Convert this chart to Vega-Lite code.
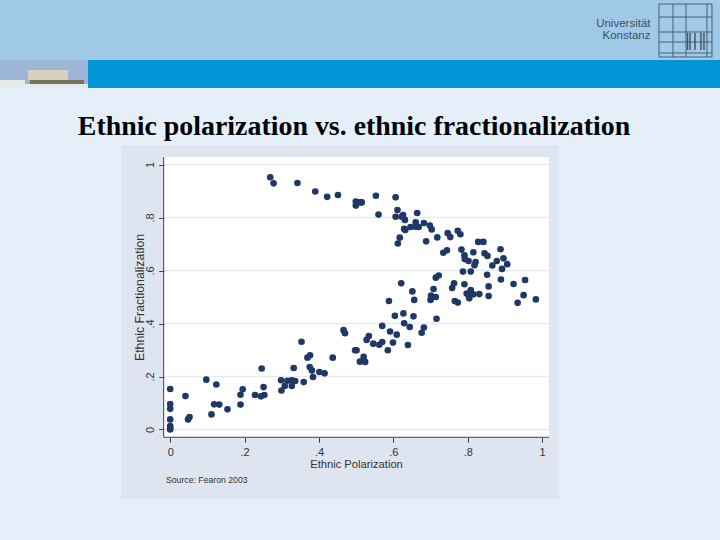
{
  "$schema": "https://vega.github.io/schema/vega-lite/v6.json",
  "description": "Ethnic polarization vs. ethnic fractionalization",
  "width": 720,
  "height": 540,
  "padding": 0,
  "autosize": {"type": "fit", "contains": "padding"},
  "background": "#e4effa",
  "view": {"stroke": null},
  "data": {"values": [{"slide": 1}]},
  "layer": [
    {"mark": {"type": "rect", "color": "#a0c9e8"},
     "encoding": {"x": {"datum": -0.4575, "type": "quantitative"}, "x2": {"datum": 1.478}, "y": {"datum": 1.6208, "type": "quantitative"}, "y2": {"datum": 1.3943}}},
    {"mark": {"type": "rect", "color": "#0095d4"},
     "encoding": {"x": {"datum": -0.221, "type": "quantitative"}, "x2": {"datum": 1.478}, "y": {"datum": 1.3943, "type": "quantitative"}, "y2": {"datum": 1.2887}}},
    {"mark": {"type": "rect", "color": "#9db6d8"},
     "encoding": {"x": {"datum": -0.4575, "type": "quantitative"}, "x2": {"datum": -0.221}, "y": {"datum": 1.3943, "type": "quantitative"}, "y2": {"datum": 1.2887}}},
    {"mark": {"type": "rect", "color": "#d6d2bd"},
     "encoding": {"x": {"datum": -0.3823, "type": "quantitative"}, "x2": {"datum": -0.2747}, "y": {"datum": 1.3566, "type": "quantitative"}, "y2": {"datum": 1.3189}}},
    {"mark": {"type": "rect", "color": "#77725f"},
     "encoding": {"x": {"datum": -0.3769, "type": "quantitative"}, "x2": {"datum": -0.2317}, "y": {"datum": 1.3189, "type": "quantitative"}, "y2": {"datum": 1.3038}}},
    {"mark": {"type": "rect", "color": "#e6ebe8"},
     "encoding": {"x": {"datum": -0.4575, "type": "quantitative"}, "x2": {"datum": -0.221}, "y": {"datum": 1.3038, "type": "quantitative"}, "y2": {"datum": 1.2887}}},
    {"mark": {"type": "rect", "color": "#e6ebe8"},
     "encoding": {"x": {"datum": -0.4575, "type": "quantitative"}, "x2": {"datum": -0.3903}, "y": {"datum": 1.3189, "type": "quantitative"}, "y2": {"datum": 1.3038}}},
    {"mark": {"type": "rect", "fillOpacity": 0, "stroke": "#4a5f72", "strokeWidth": 1},
     "encoding": {"x": {"datum": 1.314, "type": "quantitative"}, "x2": {"datum": 1.4564}, "y": {"datum": 1.6057, "type": "quantitative"}, "y2": {"datum": 1.4057}}},
    {"data": {"values": [{"v": 1.5566}, {"v": 1.5}, {"v": 1.4623}, {"v": 1.4208}]},
     "mark": {"type": "rule", "color": "#4a5f72", "strokeWidth": 1},
     "encoding": {"y": {"field": "v", "type": "quantitative"}, "x": {"datum": 1.314, "type": "quantitative"}, "x2": {"datum": 1.4564}}},
    {"data": {"values": [{"v": 1.3516}, {"v": 1.3866}, {"v": 1.443}]},
     "mark": {"type": "rule", "color": "#4a5f72", "strokeWidth": 1},
     "encoding": {"x": {"field": "v", "type": "quantitative"}, "y": {"datum": 1.6057, "type": "quantitative"}, "y2": {"datum": 1.4057}}},
    {"data": {"values": [{"v": 1.3906}, {"v": 1.3973}, {"v": 1.4108}, {"v": 1.4269}, {"v": 1.4349}]},
     "mark": {"type": "rule", "color": "#44586c", "strokeWidth": 1.5},
     "encoding": {"x": {"field": "v", "type": "quantitative"}, "y": {"datum": 1.4962, "type": "quantitative"}, "y2": {"datum": 1.4321}}},
    {"mark": {"type": "text", "text": "Universität", "align": "right", "baseline": "middle", "font": "Liberation Sans", "fontSize": 11.5, "color": "#3f4f60"},
     "encoding": {"x": {"datum": 1.2911, "type": "quantitative"}, "y": {"datum": 1.5302, "type": "quantitative"}}},
    {"mark": {"type": "text", "text": "Konstanz", "align": "right", "baseline": "middle", "font": "Liberation Sans", "fontSize": 11.5, "color": "#3f4f60"},
     "encoding": {"x": {"datum": 1.2911, "type": "quantitative"}, "y": {"datum": 1.4849, "type": "quantitative"}}},
    {"mark": {"type": "text", "text": "Ethnic polarization vs. ethnic fractionalization", "align": "center", "baseline": "alphabetic", "font": "Liberation Serif", "fontWeight": "bold", "fontSize": 27.9, "color": "#000000"},
     "encoding": {"x": {"datum": 0.4941, "type": "quantitative"}, "y": {"datum": 1.1113, "type": "quantitative"}}},
    {"mark": {"type": "rect", "color": "#dfe5f0"},
     "encoding": {"x": {"datum": -0.1323, "type": "quantitative"}, "x2": {"datum": 1.0451}, "y": {"datum": 1.0736, "type": "quantitative"}, "y2": {"datum": -0.2623}}},
    {"mark": {"type": "rect", "color": "#ffffff"},
     "encoding": {"x": {"datum": -0.0175, "type": "quantitative"}, "x2": {"datum": 1.0183}, "y": {"datum": 1.0283, "type": "quantitative"}, "y2": {"datum": -0.0294}}},
    {"data": {"values": [{"v": 0}, {"v": 0.2}, {"v": 0.4}, {"v": 0.6}, {"v": 0.8}, {"v": 1}]},
     "mark": {"type": "rule", "color": "#e6eaee", "strokeWidth": 1.5},
     "encoding": {"y": {"field": "v", "type": "quantitative"}, "x": {"datum": -0.0175, "type": "quantitative"}, "x2": {"datum": 1.0183}}},
    {"mark": {"type": "rule", "color": "#3a4250", "strokeWidth": 1},
     "encoding": {"x": {"datum": -0.0175, "type": "quantitative"}, "y": {"datum": 1.0283, "type": "quantitative"}, "y2": {"datum": -0.0294}}},
    {"mark": {"type": "rule", "color": "#3a4250", "strokeWidth": 1},
     "encoding": {"y": {"datum": -0.0294, "type": "quantitative"}, "x": {"datum": -0.0175, "type": "quantitative"}, "x2": {"datum": 1.0183}}},
    {"mark": {"type": "text", "text": "Source: Fearon 2003", "align": "left", "baseline": "middle", "font": "Liberation Sans", "fontSize": 8.7, "color": "#333333"},
     "encoding": {"x": {"datum": -0.0113, "type": "quantitative"}, "y": {"datum": -0.1906, "type": "quantitative"}}},
    {"data": {"values": [
      {"polarization": 0, "fractionalization": 0.153}, {"polarization": 0, "fractionalization": 0.096}, {"polarization": 0, "fractionalization": 0.078},
      {"polarization": 0, "fractionalization": 0.038}, {"polarization": 0, "fractionalization": 0.013}, {"polarization": 0, "fractionalization": 0.006},
      {"polarization": 0, "fractionalization": 0}, {"polarization": 0.041, "fractionalization": 0.126}, {"polarization": 0.048, "fractionalization": 0.038},
      {"polarization": 0.052, "fractionalization": 0.047}, {"polarization": 0.097, "fractionalization": 0.188}, {"polarization": 0.124, "fractionalization": 0.17},
      {"polarization": 0.111, "fractionalization": 0.057}, {"polarization": 0.118, "fractionalization": 0.095}, {"polarization": 0.132, "fractionalization": 0.094},
      {"polarization": 0.154, "fractionalization": 0.076}, {"polarization": 0.189, "fractionalization": 0.094}, {"polarization": 0.189, "fractionalization": 0.131},
      {"polarization": 0.195, "fractionalization": 0.152}, {"polarization": 0.228, "fractionalization": 0.13}, {"polarization": 0.246, "fractionalization": 0.23},
      {"polarization": 0.244, "fractionalization": 0.125}, {"polarization": 0.253, "fractionalization": 0.13}, {"polarization": 0.251, "fractionalization": 0.16},
      {"polarization": 0.298, "fractionalization": 0.186}, {"polarization": 0.299, "fractionalization": 0.147}, {"polarization": 0.308, "fractionalization": 0.164},
      {"polarization": 0.315, "fractionalization": 0.184}, {"polarization": 0.327, "fractionalization": 0.164}, {"polarization": 0.327, "fractionalization": 0.186},
      {"polarization": 0.336, "fractionalization": 0.183}, {"polarization": 0.332, "fractionalization": 0.232}, {"polarization": 0.359, "fractionalization": 0.179},
      {"polarization": 0.384, "fractionalization": 0.198}, {"polarization": 0.381, "fractionalization": 0.223}, {"polarization": 0.375, "fractionalization": 0.236},
      {"polarization": 0.369, "fractionalization": 0.271}, {"polarization": 0.376, "fractionalization": 0.28}, {"polarization": 0.353, "fractionalization": 0.331},
      {"polarization": 0.401, "fractionalization": 0.217}, {"polarization": 0.415, "fractionalization": 0.212}, {"polarization": 0.437, "fractionalization": 0.271},
      {"polarization": 0.466, "fractionalization": 0.375}, {"polarization": 0.47, "fractionalization": 0.363}, {"polarization": 0.497, "fractionalization": 0.299},
      {"polarization": 0.501, "fractionalization": 0.299}, {"polarization": 0.52, "fractionalization": 0.274}, {"polarization": 0.51, "fractionalization": 0.256},
      {"polarization": 0.524, "fractionalization": 0.255}, {"polarization": 0.528, "fractionalization": 0.338}, {"polarization": 0.534, "fractionalization": 0.353},
      {"polarization": 0.546, "fractionalization": 0.324}, {"polarization": 0.562, "fractionalization": 0.32}, {"polarization": 0.57, "fractionalization": 0.33},
      {"polarization": 0.57, "fractionalization": 0.391}, {"polarization": 0.585, "fractionalization": 0.299}, {"polarization": 0.591, "fractionalization": 0.37},
      {"polarization": 0.599, "fractionalization": 0.328}, {"polarization": 0.609, "fractionalization": 0.358}, {"polarization": 0.629, "fractionalization": 0.401},
      {"polarization": 0.644, "fractionalization": 0.387}, {"polarization": 0.639, "fractionalization": 0.319}, {"polarization": 0.676, "fractionalization": 0.365},
      {"polarization": 0.682, "fractionalization": 0.385}, {"polarization": 0.716, "fractionalization": 0.418}, {"polarization": 0.604, "fractionalization": 0.429},
      {"polarization": 0.627, "fractionalization": 0.438}, {"polarization": 0.654, "fractionalization": 0.427}, {"polarization": 0.588, "fractionalization": 0.485},
      {"polarization": 0.621, "fractionalization": 0.552}, {"polarization": 0.651, "fractionalization": 0.521}, {"polarization": 0.656, "fractionalization": 0.489},
      {"polarization": 0.7, "fractionalization": 0.489}, {"polarization": 0.701, "fractionalization": 0.505}, {"polarization": 0.714, "fractionalization": 0.5},
      {"polarization": 0.708, "fractionalization": 0.53}, {"polarization": 0.714, "fractionalization": 0.573}, {"polarization": 0.722, "fractionalization": 0.581},
      {"polarization": 0.758, "fractionalization": 0.534}, {"polarization": 0.763, "fractionalization": 0.552}, {"polarization": 0.765, "fractionalization": 0.485},
      {"polarization": 0.773, "fractionalization": 0.479}, {"polarization": 0.791, "fractionalization": 0.548}, {"polarization": 0.787, "fractionalization": 0.596},
      {"polarization": 0.808, "fractionalization": 0.596}, {"polarization": 0.797, "fractionalization": 0.513}, {"polarization": 0.808, "fractionalization": 0.526},
      {"polarization": 0.804, "fractionalization": 0.495}, {"polarization": 0.815, "fractionalization": 0.51}, {"polarization": 0.831, "fractionalization": 0.511},
      {"polarization": 0.802, "fractionalization": 0.507}, {"polarization": 0.856, "fractionalization": 0.54}, {"polarization": 0.856, "fractionalization": 0.504},
      {"polarization": 0.852, "fractionalization": 0.584}, {"polarization": 0.889, "fractionalization": 0.566}, {"polarization": 0.923, "fractionalization": 0.549},
      {"polarization": 0.954, "fractionalization": 0.564}, {"polarization": 0.95, "fractionalization": 0.507}, {"polarization": 0.934, "fractionalization": 0.478},
      {"polarization": 0.983, "fractionalization": 0.491}, {"polarization": 0.269, "fractionalization": 0.952}, {"polarization": 0.278, "fractionalization": 0.929},
      {"polarization": 0.342, "fractionalization": 0.93}, {"polarization": 0.39, "fractionalization": 0.898}, {"polarization": 0.422, "fractionalization": 0.878},
      {"polarization": 0.451, "fractionalization": 0.885}, {"polarization": 0.499, "fractionalization": 0.86}, {"polarization": 0.499, "fractionalization": 0.845},
      {"polarization": 0.503, "fractionalization": 0.857}, {"polarization": 0.511, "fractionalization": 0.857}, {"polarization": 0.515, "fractionalization": 0.857},
      {"polarization": 0.553, "fractionalization": 0.882}, {"polarization": 0.56, "fractionalization": 0.811}, {"polarization": 0.606, "fractionalization": 0.876},
      {"polarization": 0.611, "fractionalization": 0.828}, {"polarization": 0.606, "fractionalization": 0.803}, {"polarization": 0.626, "fractionalization": 0.809},
      {"polarization": 0.622, "fractionalization": 0.803}, {"polarization": 0.631, "fractionalization": 0.791}, {"polarization": 0.664, "fractionalization": 0.817},
      {"polarization": 0.629, "fractionalization": 0.757}, {"polarization": 0.632, "fractionalization": 0.753}, {"polarization": 0.646, "fractionalization": 0.764},
      {"polarization": 0.66, "fractionalization": 0.782}, {"polarization": 0.659, "fractionalization": 0.765}, {"polarization": 0.668, "fractionalization": 0.764},
      {"polarization": 0.682, "fractionalization": 0.779}, {"polarization": 0.698, "fractionalization": 0.77}, {"polarization": 0.703, "fractionalization": 0.755},
      {"polarization": 0.617, "fractionalization": 0.724}, {"polarization": 0.612, "fractionalization": 0.702}, {"polarization": 0.688, "fractionalization": 0.71},
      {"polarization": 0.718, "fractionalization": 0.725}, {"polarization": 0.746, "fractionalization": 0.741}, {"polarization": 0.753, "fractionalization": 0.726},
      {"polarization": 0.773, "fractionalization": 0.75}, {"polarization": 0.78, "fractionalization": 0.737}, {"polarization": 0.828, "fractionalization": 0.708},
      {"polarization": 0.842, "fractionalization": 0.708}, {"polarization": 0.783, "fractionalization": 0.679}, {"polarization": 0.791, "fractionalization": 0.657},
      {"polarization": 0.792, "fractionalization": 0.643}, {"polarization": 0.802, "fractionalization": 0.636}, {"polarization": 0.815, "fractionalization": 0.669},
      {"polarization": 0.845, "fractionalization": 0.665}, {"polarization": 0.853, "fractionalization": 0.655}, {"polarization": 0.888, "fractionalization": 0.68},
      {"polarization": 0.896, "fractionalization": 0.646}, {"polarization": 0.878, "fractionalization": 0.636}, {"polarization": 0.866, "fractionalization": 0.619},
      {"polarization": 0.906, "fractionalization": 0.624}, {"polarization": 0.892, "fractionalization": 0.606}, {"polarization": 0.821, "fractionalization": 0.632},
      {"polarization": 0.818, "fractionalization": 0.62}, {"polarization": 0.734, "fractionalization": 0.667}, {"polarization": 0.744, "fractionalization": 0.676}
    ]},
     "mark": {"type": "circle", "size": 44, "color": "#1f3866", "opacity": 1},
     "encoding": {
       "x": {"field": "polarization", "type": "quantitative",
         "scale": {"domain": [-0.4575, 1.478], "nice": false, "zero": false},
         "axis": {"zindex": 1, "offset": -102.7, "grid": false, "domain": false, "values": [0, 0.2, 0.4, 0.6, 0.8, 1],
           "labelExpr": "datum.value == 0 ? '0' : datum.value == 1 ? '1' : replace(format(datum.value, '.1f'), '0.', '.')",
           "title": "Ethnic Polarization", "titleX": 356, "titleY": 21, "titleFont": "Liberation Sans", "titleFontSize": 11.2, "titleFontWeight": "normal", "titleColor": "#333333",
           "labelFont": "Liberation Sans", "labelFontSize": 11, "labelColor": "#333333", "labelPadding": 4, "tickColor": "#3a4250", "tickSize": 5}},
       "y": {"field": "fractionalization", "type": "quantitative",
         "scale": {"domain": [-0.417, 1.6208], "nice": false, "zero": false},
         "axis": {"zindex": 1, "offset": -163.7, "grid": false, "domain": false, "values": [0, 0.2, 0.4, 0.6, 0.8, 1],
           "labelExpr": "datum.value == 0 ? '0' : datum.value == 1 ? '1' : replace(format(datum.value, '.1f'), '0.', '.')",
           "labelAngle": -90, "labelAlign": "center", "labelBaseline": "bottom",
           "title": "Ethnic Fractionalization", "titleX": -17, "titleY": 297, "titleFont": "Liberation Sans", "titleFontSize": 12.3, "titleFontWeight": "normal", "titleColor": "#333333",
           "labelFont": "Liberation Sans", "labelFontSize": 11, "labelColor": "#333333", "labelPadding": 3, "tickColor": "#3a4250", "tickSize": 5}}
     }}
  ]
}
